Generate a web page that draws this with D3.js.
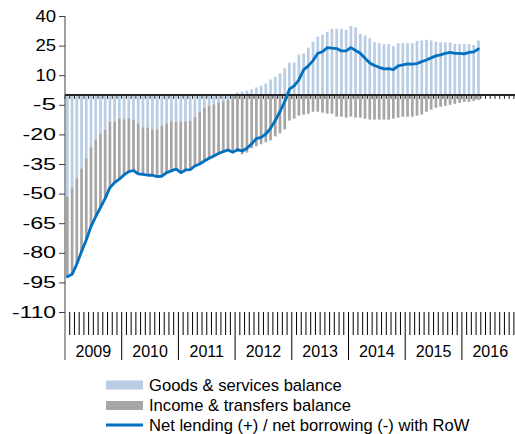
<!DOCTYPE html>
<html>
<head>
<meta charset="utf-8">
<script src="https://cdn.jsdelivr.net/npm/d3@7"></script>
<style>
  body { margin: 0; background: #fff; }
  text { font-family: "Liberation Sans", Arial, sans-serif; fill: #000; }
</style>
</head>
<body>
<div id="chart"></div>
<script>
// categories
const years = ["2009", "2010", "2011", "2012", "2013", "2014", "2015", "2016"];
const months = years.flatMap(y => d3.range(1, 13).map(m => y + "-" + String(m).padStart(2, "0")));

// monthly values, Jan 2009 - Apr 2016
const goods = [
  -51.5, -47.3, -42.2, -37.2, -32.1, -26.5, -22.5, -19.8, -17.7, -13.7, -13.7, -11.8,
  -12.3, -11.8, -12.7, -14.4, -16.4, -16.4, -17.4, -17.4, -15.7, -14.4, -13.3, -13.5,
  -13.5, -13.5, -13.0, -11.0, -8.5, -6.5, -5.5, -4.8, -4.0, -3.2, -2.5, -0.5,
  1.2, 1.7, 2.2, 2.8, 3.8, 4.8, 5.8, 7.8, 9.2, 11.0, 13.5, 16.4,
  16.4, 20.5, 21.0, 24.0, 27.0, 29.5, 30.5, 32.0, 33.5, 33.5, 33.5, 33.0,
  35.0, 34.3, 30.9, 30.1, 28.7, 26.7, 26.2, 25.7, 25.7, 24.8, 26.2, 26.2,
  26.2, 26.2, 27.4, 27.6, 27.9, 27.6, 27.0, 26.7, 26.7, 26.5, 25.8, 25.7,
  25.7, 25.7, 25.3, 27.6
];
const income = [
  -40.6, -43.6, -43.5, -42.2, -41.4, -40.2, -39.2, -37.3, -34.7, -33.3, -30.7, -30.9,
  -28.2, -27.1, -25.6, -25.6, -23.8, -24.3, -23.3, -24.0, -25.5, -25.0, -25.2, -24.0,
  -25.9, -24.5, -24.8, -25.0, -26.5, -27.0, -26.6, -26.1, -25.7, -25.5, -25.4, -28.6,
  -28.9, -30.1, -29.2, -27.0, -26.0, -25.0, -24.0, -23.0, -21.0, -19.5, -17.5, -13.0,
  -12.0, -10.5, -10.0, -9.5, -8.5, -8.5, -9.0, -9.5, -9.5, -11.0, -11.0, -11.5,
  -11.0, -11.5, -11.5, -12.0, -12.5, -12.5, -12.5, -12.5, -12.5, -12.0, -11.5, -11.0,
  -11.0, -11.0, -10.5, -10.0, -8.5, -7.5, -6.5, -6.0, -5.5, -5.0, -4.5, -4.0,
  -3.5, -3.5, -3.0, -2.5
];
const netLending = [
  -92.1, -90.9, -85.7, -79.4, -73.5, -66.7, -61.7, -57.1, -52.4, -47.0, -44.4, -42.7,
  -40.5, -38.9, -38.3, -40.0, -40.2, -40.7, -40.7, -41.4, -41.2, -39.4, -38.5, -37.5,
  -39.4, -38.0, -37.8, -36.0, -35.0, -33.5, -32.1, -30.9, -29.7, -28.7, -27.9, -29.1,
  -27.7, -28.4, -27.0, -24.8, -22.1, -21.5, -19.8, -16.9, -13.0, -8.4, -3.4, 2.9,
  4.6, 7.6, 12.7, 14.7, 17.4, 21.1, 21.9, 24.0, 23.7, 23.5, 22.3, 22.3,
  24.0, 22.5, 21.1, 18.6, 16.2, 14.9, 14.0, 13.2, 13.3, 12.8, 14.7, 15.2,
  15.7, 15.6, 15.9, 16.9, 17.7, 18.8, 19.8, 20.3, 21.1, 21.6, 21.1, 21.1,
  20.8, 21.6, 21.8, 23.3
];

const yTicks = [40, 25, 10, -5, -20, -35, -50, -65, -80, -95, -110];
const legendLabels = [
  "Goods & services balance",
  "Income & transfers balance",
  "Net lending (+) / net borrowing (-) with RoW"
];

const width = 515, height = 434;
const colGoods = "#b9cde5", colIncome = "#a6a6a6", colLine = "#0070c0";

const svg = d3.select("#chart").append("svg")
  .attr("width", width)
  .attr("height", height);

const x = d3.scaleBand()
  .domain(months)
  .range([65, 65 + 96 * 4.725])
  .paddingInner(0.42)
  .paddingOuter(0.21);

const y = d3.scaleLinear()
  .domain([-110, 40])
  .range([312, 16]);

const x0 = x.range()[0];
const step = x.step();
const boundaries = d3.range(0, months.length + 1);

// stacked bars
const rows = goods.map((g, i) => ({ month: months[i], goods: g, income: income[i] }));
const series = d3.stack()
  .keys(["goods", "income"])
  .offset(d3.stackOffsetDiverging)(rows);

svg.append("g")
  .selectAll("g")
  .data(series)
  .join("g")
  .attr("fill", d => d.key === "goods" ? colGoods : colIncome)
  .selectAll("rect")
  .data(d => d)
  .join("rect")
  .attr("x", d => x(d.data.month))
  .attr("width", x.bandwidth())
  .attr("y", d => y(Math.max(d[0], d[1])))
  .attr("height", d => Math.abs(y(d[0]) - y(d[1])));

// zero axis with month ticks
svg.append("line")
  .attr("x1", 65).attr("x2", width)
  .attr("y1", y(0)).attr("y2", y(0))
  .attr("stroke", "#262626")
  .attr("stroke-width", 2);

svg.append("g")
  .attr("stroke", "#262626")
  .selectAll("line")
  .data(boundaries)
  .join("line")
  .attr("x1", k => x0 + k * step)
  .attr("x2", k => x0 + k * step)
  .attr("y1", y(0))
  .attr("y2", y(0) + 4);

// net lending line
const line = d3.line()
  .x((d, i) => x(months[i]) + x.bandwidth() / 2)
  .y(d => y(d));

svg.append("path")
  .datum(netLending)
  .attr("fill", "none")
  .attr("stroke", colLine)
  .attr("stroke-width", 2.8)
  .attr("stroke-linejoin", "round")
  .attr("stroke-linecap", "round")
  .attr("d", line);

// y axis
const yAxis = svg.append("g")
  .attr("transform", "translate(65,0)")
  .call(d3.axisLeft(y).tickValues(yTicks).tickSize(6).tickPadding(3).tickFormat(d => String(d)));
yAxis.select(".domain").remove();
yAxis.selectAll(".tick line").attr("stroke", "#404040");
yAxis.selectAll(".tick text")
  .attr("font-size", 16)
  .attr("font-family", "Liberation Sans, Arial, sans-serif")
  .attr("fill", "#000")
  .attr("textLength", d => String(Math.abs(d)).length * 10.3 + (d < 0 ? 13 : 0))
  .attr("lengthAdjust", "spacingAndGlyphs");

svg.append("line")
  .attr("x1", 65).attr("x2", 65)
  .attr("y1", y(40)).attr("y2", 360)
  .attr("stroke", "#404040");

// category band at the bottom
svg.append("g")
  .attr("stroke", "#000")
  .selectAll("line")
  .data(boundaries.filter(k => k > 0))
  .join("line")
  .attr("x1", k => x0 + k * step)
  .attr("x2", k => x0 + k * step)
  .attr("y1", 312)
  .attr("y2", k => k % 12 === 0 ? 360 : 335);

svg.append("g")
  .selectAll("text")
  .data(years)
  .join("text")
  .attr("x", (d, i) => x0 + (i * 12 + 6) * step)
  .attr("y", 357)
  .attr("text-anchor", "middle")
  .attr("font-size", 16)
  .text(d => d);

// legend
const legend = svg.append("g");
const rowY = [385, 405.5, 425];
legend.append("rect")
  .attr("x", 106).attr("y", rowY[0] - 4.5)
  .attr("width", 37).attr("height", 9)
  .attr("fill", colGoods);
legend.append("rect")
  .attr("x", 106).attr("y", rowY[1] - 4.5)
  .attr("width", 37).attr("height", 9)
  .attr("fill", colIncome);
legend.append("line")
  .attr("x1", 106).attr("x2", 143)
  .attr("y1", rowY[2]).attr("y2", rowY[2])
  .attr("stroke", colLine)
  .attr("stroke-width", 2.8);

legend.selectAll("text")
  .data(legendLabels)
  .join("text")
  .attr("x", 149)
  .attr("y", (d, i) => rowY[i] + 5.5)
  .attr("font-size", 16.6)
  .text(d => d);
</script>
</body>
</html>
